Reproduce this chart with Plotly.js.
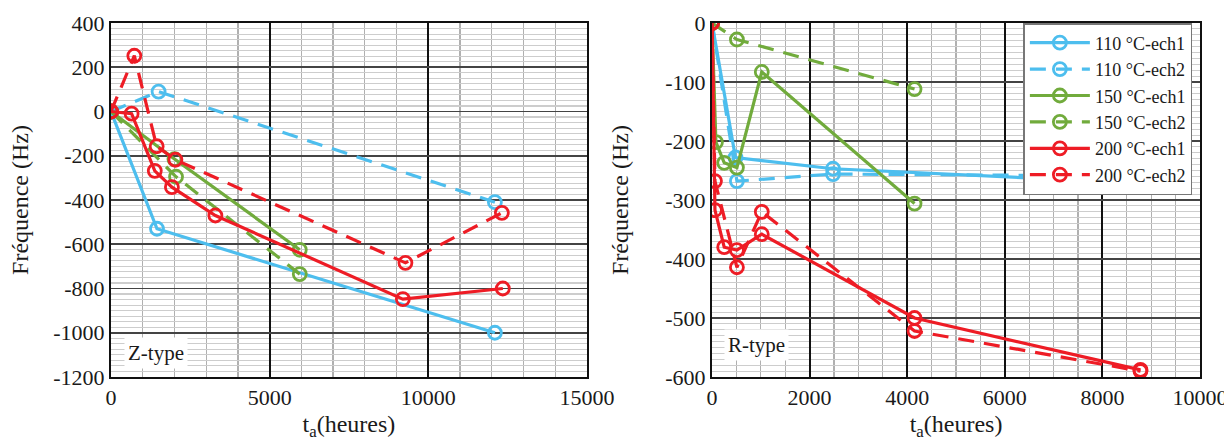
<!DOCTYPE html>
<html>
<head>
<meta charset="utf-8">
<script src="https://cdn.plot.ly/plotly-3.0.1.min.js"></script>
<style>html,body{margin:0;padding:0;background:#fff;}#chart{width:1224px;height:443px;}</style>
</head>
<body>
<div id="chart"></div>
<script>
// ---- Data: Z-type (left panel) ----
const zB1x = [0, 1450, 12100];
const zB1y = [0, -530, -1000];
const zB2x = [0, 1500, 12100];
const zB2y = [0, 90, -410];
const zG1x = [0, 2000, 5950];
const zG1y = [0, -215, -625];
const zG2x = [0, 2050, 5950];
const zG2y = [0, -295, -735];
const zR1x = [0, 650, 1380, 1920, 3290, 9200, 12350];
const zR1y = [0, -10, -268, -342, -470, -848, -800];
const zR2x = [0, 735, 1440, 2030, 9280, 12320];
const zR2y = [0, 252, -157, -218, -684, -458];

// ---- Data: R-type (right panel) ----
const rB1x = [0, 480, 2480, 7900];
const rB1y = [0, -228, -247, -268];
const rB2x = [0, 510, 2480, 7900];
const rB2y = [0, -268, -256, -259];
const rG1x = [0, 80, 250, 510, 1020, 4150];
const rG1y = [0, -202, -237, -245, -83, -306];
const rG2x = [0, 510, 4150];
const rG2y = [0, -28, -112];
const rR1x = [0, 60, 250, 510, 1020, 4150, 8780];
const rR1y = [0, -317, -380, -385, -358, -500, -588];
const rR2x = [0, 60, 510, 1020, 4150, 8780];
const rR2y = [0, -268, -414, -320, -522, -590];

const seriesNames = ['110 °C-ech1', '110 °C-ech2', '150 °C-ech1', '150 °C-ech2', '200 °C-ech1', '200 °C-ech2'];

// tick labels
const zXticks = [0, 5000, 10000, 15000];
const zYticks = [400, 200, 0, -200, -400, -600, -800, -1000, -1200];
const rXticks = [0, 2000, 4000, 6000, 8000, 10000];
const rYticks = [0, -100, -200, -300, -400, -500, -600];
const lab = v => v.map(t => String(t));

const BLUE = '#4DBEEE', GREEN = '#71AB3C', RED = '#EE1C25';
const serif = 'Liberation Serif';

function tr(x, y, color, dashed, name, xa, ya, showlegend) {
  return {
    x: x, y: y, name: name, xaxis: xa, yaxis: ya, showlegend: showlegend,
    mode: 'lines+markers', type: 'scatter',
    line: {color: color, width: 3.2, dash: dashed ? '16px,10px' : 'solid'},
    marker: {symbol: 'circle-open', size: 13, color: color, line: {width: 2.8, color: color}}
  };
}

const data = [
  tr(zB1x, zB1y, BLUE, false, seriesNames[0], 'x', 'y', false),
  tr(zB2x, zB2y, BLUE, true, seriesNames[1], 'x', 'y', false),
  tr(zG1x, zG1y, GREEN, false, seriesNames[2], 'x', 'y', false),
  tr(zG2x, zG2y, GREEN, true, seriesNames[3], 'x', 'y', false),
  tr(zR1x, zR1y, RED, false, seriesNames[4], 'x', 'y', false),
  tr(zR2x, zR2y, RED, true, seriesNames[5], 'x', 'y', false),
  tr(rB1x, rB1y, BLUE, false, seriesNames[0], 'x2', 'y2', true),
  tr(rB2x, rB2y, BLUE, true, seriesNames[1], 'x2', 'y2', true),
  tr(rG1x, rG1y, GREEN, false, seriesNames[2], 'x2', 'y2', true),
  tr(rG2x, rG2y, GREEN, true, seriesNames[3], 'x2', 'y2', true),
  tr(rR1x, rR1y, RED, false, seriesNames[4], 'x2', 'y2', true),
  tr(rR2x, rR2y, RED, true, seriesNames[5], 'x2', 'y2', true)
];

function mkFont(sz) { return {family: serif, size: sz, color: '#1a1a1a'}; }

function xAx(domain, range, ticks, minor, anchor) {
  return {
    domain: domain, range: range, anchor: anchor,
    tickmode: 'array', tickvals: ticks, ticktext: lab(ticks),
    ticklabeloverflow: 'allow',
    showline: true, linecolor: '#111', linewidth: 2, mirror: true,
    ticks: '', zeroline: false,
    showgrid: true, gridcolor: '#111', gridwidth: 1.8,
    minor: {dtick: minor, tick0: 0, showgrid: true, gridcolor: '#b0b0b0', gridwidth: 1.2},
    tickfont: mkFont(22),
    title: {text: 't<sub>a</sub>(heures)', font: mkFont(24), standoff: 6}
  };
}
function yAx(domain, range, ticks, minor, anchor, standoff) {
  return {
    domain: domain, range: range, anchor: anchor,
    tickmode: 'array', tickvals: ticks, ticktext: lab(ticks),
    ticklabeloverflow: 'allow',
    showline: true, linecolor: '#111', linewidth: 2, mirror: true,
    ticks: '', zeroline: false,
    showgrid: true, gridcolor: '#444', gridwidth: 1.6,
    minor: {dtick: minor, tick0: 0, showgrid: true, gridcolor: '#cdcdcd', gridwidth: 1.1},
    tickfont: mkFont(22),
    title: {text: 'Fréquence (Hz)', font: mkFont(24), standoff: standoff}
  };
}

const layout = {
  width: 1224, height: 443,
  margin: {l: 111, r: 24, t: 23, b: 66},
  paper_bgcolor: '#fff', plot_bgcolor: '#fff',
  font: {family: serif, color: '#1a1a1a', size: 20},
  xaxis: xAx([0, 0.437], [0, 15000], zXticks, 1000, 'y'),
  yaxis: yAx([0, 1], [-1200, 400], zYticks, 25, 'x', 18),
  xaxis2: xAx([0.5519, 1], [0, 10000], rXticks, 500, 'y2'),
  yaxis2: yAx([0, 1], [-600, 0], rYticks, 10, 'x2', 30),
  legend: {
    x: 0.993, y: 1, xanchor: 'right', yanchor: 'top',
    bgcolor: '#fff', bordercolor: '#777', borderwidth: 1.5,
    font: mkFont(18),
    tracegroupgap: 0, itemwidth: 60
  },
  annotations: [
    {xref: 'x', yref: 'y', x: 400, y: -1090, xanchor: 'left', yanchor: 'middle', text: 'Z-type', showarrow: false,
     font: mkFont(21), bgcolor: '#fff', borderpad: 3},
    {xref: 'x2', yref: 'y2', x: 250, y: -545, xanchor: 'left', yanchor: 'middle', text: 'R-type', showarrow: false,
     font: mkFont(21), bgcolor: '#fff', borderpad: 3}
  ],
  showlegend: true
};

Plotly.newPlot('chart', data, layout, {staticPlot: true, displayModeBar: false});
</script>
</body>
</html>
